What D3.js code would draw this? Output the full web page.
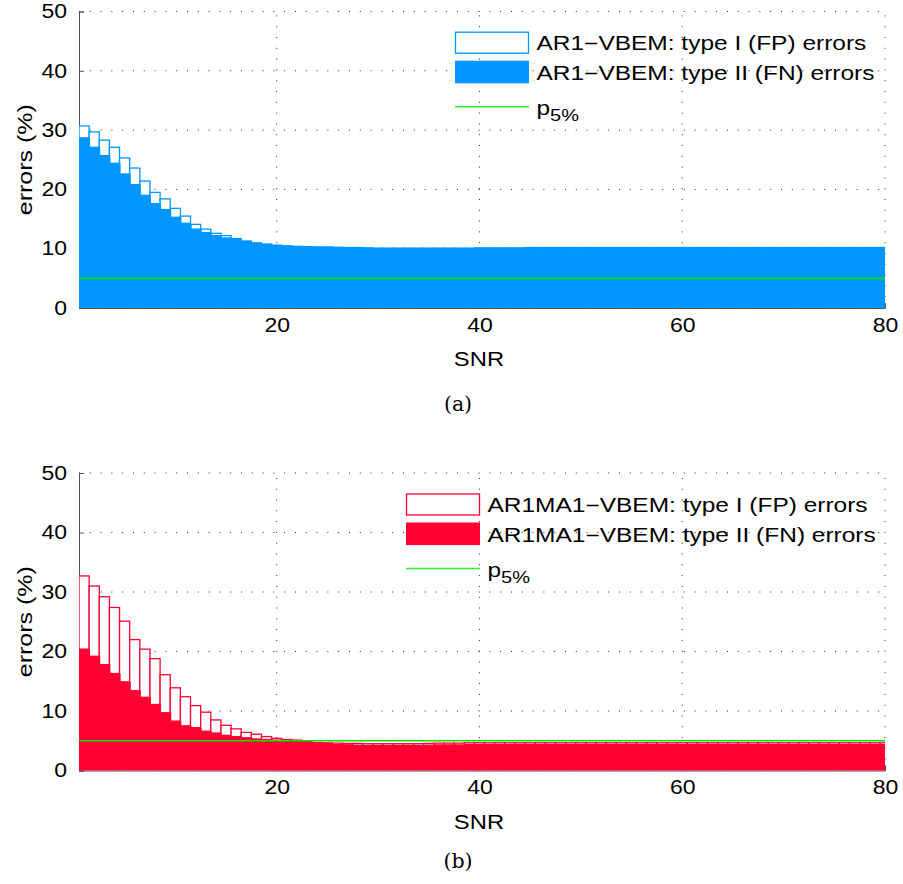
<!DOCTYPE html>
<html><head><meta charset="utf-8">
<script src="https://cdn.jsdelivr.net/npm/d3@7"></script>
<style>body{margin:0;background:#fff}svg{display:block}</style>
</head><body>
<script>
// ---------- data ----------
const snr = [1,2,3,4,5,6,7,8,9,10,11,12,13,14,15,16,17,18,19,20,
 21,22,23,24,25,26,27,28,29,30,31,32,33,34,35,36,37,38,39,40,
 41,42,43,44,45,46,47,48,49,50,51,52,53,54,55,56,57,58,59,60,
 61,62,63,64,65,66,67,68,69,70,71,72,73,74,75,76,77,78,79,80];
const xTicks = [20,40,60,80];
const yTicks = [0,10,20,30,40,50];
const threshold = 5;

// panel (a): AR1-VBEM
const ar1FN = [28.7,27.1,25.7,24.4,22.6,20.8,19.0,17.6,16.6,15.3,14.3,13.3,12.7,12.2,11.8,11.5,11.2,10.9,10.7,10.5,
 10.4,10.3,10.25,10.2,10.2,10.15,10.1,10.1,10.05,10.0,10.0,10.0,10.0,10.0,10.0,10.0,10.0,10.0,10.0,10.05,
 10.05,10.05,10.05,10.05,10.1,10.1,10.1,10.1,10.1,10.1,10.1,10.1,10.1,10.1,10.1,10.1,10.1,10.1,10.1,10.1,
 10.1,10.1,10.1,10.1,10.1,10.1,10.1,10.1,10.1,10.1,10.1,10.1,10.1,10.1,10.1,10.1,10.1,10.1,10.1,10.1];
const ar1FP = [2.0,2.6,2.6,2.7,2.7,2.8,2.4,1.9,1.8,1.5,1.2,0.8,0.6,0.4,0.4,0.2,0.1,0.1,0.1,0.1,
 0.1,0.1,0.1,0.1,0.1,0.1,0.1,0.1,0.1,0.1,0.1,0.1,0.1,0.1,0.1,0.1,0.1,0.1,0.1,0.1,
 0.1,0.1,0.1,0.1,0.1,0.1,0.1,0.1,0.1,0.1,0.1,0.1,0.1,0.1,0.1,0.1,0.1,0.1,0.1,0.1,
 0.1,0.1,0.1,0.1,0.1,0.1,0.1,0.1,0.1,0.1,0.1,0.1,0.1,0.1,0.1,0.1,0.1,0.1,0.1,0.1];

// panel (b): AR1MA1-VBEM
const arma1FN = [20.4,19.2,17.8,16.3,14.9,13.4,12.3,11.1,9.7,8.3,7.5,7.2,6.6,6.3,5.9,5.7,5.5,5.3,5.2,5.1,
 5.0,4.95,4.8,4.6,4.45,4.35,4.3,4.25,4.2,4.2,4.2,4.2,4.2,4.2,4.25,4.3,4.3,4.3,4.35,4.35,
 4.35,4.35,4.35,4.35,4.35,4.35,4.35,4.35,4.35,4.35,4.35,4.35,4.35,4.35,4.35,4.35,4.35,4.35,4.35,4.35,
 4.35,4.35,4.35,4.35,4.35,4.35,4.35,4.35,4.35,4.35,4.35,4.35,4.35,4.35,4.35,4.35,4.35,4.35,4.35,4.35];
const arma1FP = [12.3,11.8,11.4,11.1,10.2,8.6,8.1,7.7,6.4,5.6,4.9,3.7,3.2,2.2,1.7,1.3,0.9,0.8,0.5,0.3,
 0.2,0.15,0.1,0.1,0.2,0.25,0.25,0.3,0.3,0.3,0.3,0.3,0.3,0.3,0.3,0.3,0.3,0.3,0.3,0.3,
 0.3,0.3,0.3,0.3,0.3,0.3,0.3,0.3,0.3,0.3,0.3,0.3,0.3,0.3,0.3,0.3,0.3,0.3,0.3,0.3,
 0.3,0.3,0.3,0.3,0.3,0.3,0.3,0.3,0.3,0.3,0.3,0.3,0.3,0.3,0.3,0.3,0.3,0.3,0.3,0.3];

const panels = [
 {fn: ar1FN, fp: ar1FP, color: "#0096ff", name: "AR1\u2212VBEM", caption: "(a)",
  y0: 308, y1: 11.5, legX: 455, legY: 31.7, capY: 411},
 {fn: arma1FN, fp: arma1FP, color: "#ff0033", name: "AR1MA1\u2212VBEM", caption: "(b)",
  y0: 770.5, y1: 473, legX: 406, legY: 493.5, capY: 868}
];

// ---------- drawing ----------
const W = 903, H = 884;
const svg = d3.select("body").append("svg").attr("width", W).attr("height", H);
const FONT = "'Liberation Sans', Arial, Helvetica, sans-serif";
const FS = 19.5;
const STRETCH = 1.25;
function stretch(sel, k) {
  sel.each(function () {
    const l = this.getComputedTextLength();
    d3.select(this).attr("textLength", l * (k || STRETCH)).attr("lengthAdjust", "spacingAndGlyphs");
  });
}
const x = d3.scaleLinear().domain([0.5, 80]).range([79, 885]);

panels.forEach((p, pi) => {
  const y = d3.scaleLinear().domain([0, 50]).range([p.y0, p.y1]);
  const g = svg.append("g");
  const clipId = "clip" + pi;
  svg.append("defs").append("clipPath").attr("id", clipId)
    .append("rect").attr("x", x.range()[0]).attr("y", p.y1 - 2)
    .attr("width", x.range()[1] - x.range()[0]).attr("height", p.y0 - p.y1 + 3);

  // grid (dotted)
  g.selectAll(".gx").data(xTicks).join("line")
    .attr("x1", d => x(d)).attr("x2", d => x(d)).attr("y1", p.y0).attr("y2", p.y1)
    .attr("stroke", "#222").attr("stroke-width", 1).attr("stroke-dasharray", "1,9.8");
  g.selectAll(".gy").data(yTicks.filter(d => d > 0)).join("line")
    .attr("x1", x.range()[0]).attr("x2", x.range()[1]).attr("y1", d => y(d)).attr("y2", d => y(d))
    .attr("stroke", "#222").attr("stroke-width", 1).attr("stroke-dasharray", "1,9.8");

  // axes via d3
  const yAxis = d3.axisLeft(y).tickValues(yTicks).tickSize(-5).tickPadding(12);
  const ya = g.append("g").attr("transform", `translate(${x.range()[0]},0)`).call(yAxis);
  ya.select(".domain").attr("stroke", "#555");
  ya.selectAll(".tick line").attr("stroke", "#555");
  ya.selectAll("text").attr("font-family", FONT).attr("font-size", FS).attr("fill", "#000")
    .call(stretch, 1.18);

  const xAxis = d3.axisBottom(x).tickValues(xTicks).tickSize(-5).tickPadding(10);
  const xa = g.append("g").attr("transform", `translate(0,${p.y0})`).call(xAxis);
  xa.select(".domain").attr("stroke", "#555");
  xa.selectAll(".tick line").attr("stroke", "#555");
  xa.selectAll("text").attr("font-family", FONT).attr("font-size", FS).attr("fill", "#000")
    .attr("dy", "0.71em").call(stretch, 1.18);

  // bars
  const bars = g.append("g").attr("clip-path", `url(#${clipId})`);
  const data = snr.map((s, i) => ({s, fn: p.fn[i], fp: p.fp[i]}));
  bars.selectAll(".fp").data(data).join("rect")
    .attr("x", d => x(d.s - 0.5)).attr("width", d => x(d.s + 0.5) - x(d.s - 0.5))
    .attr("y", d => y(d.fn + d.fp)).attr("height", d => y(d.fn) - y(d.fn + d.fp))
    .attr("fill", "#fff").attr("stroke", p.color).attr("stroke-width", 1.3);
  bars.selectAll(".fn").data(data).join("rect")
    .attr("x", d => x(d.s - 0.5)).attr("width", d => x(d.s + 0.5) - x(d.s - 0.5) + 1)
    .attr("y", d => y(d.fn)).attr("height", d => y(0) - y(d.fn))
    .attr("fill", p.color);

  // threshold line
  g.append("line").attr("x1", x.range()[0]).attr("x2", x.range()[1])
    .attr("y1", y(threshold)).attr("y2", y(threshold))
    .attr("stroke", "#00e600").attr("stroke-width", 1.6);

  // axis titles
  g.append("text").attr("transform", `translate(32,${(p.y0 + p.y1) / 2}) rotate(-90)`)
    .attr("text-anchor", "middle").attr("font-family", FONT).attr("font-size", FS)
    .text("errors (%)").call(stretch, 1.28);
  g.append("text").attr("x", 479).attr("y", p.y0 + 58)
    .attr("text-anchor", "middle").attr("font-family", FONT).attr("font-size", FS)
    .text("SNR").call(stretch, 1.22);
  g.append("text").attr("x", 458).attr("y", p.capY)
    .attr("text-anchor", "middle").attr("font-family", "'DejaVu Serif', 'Liberation Serif', serif")
    .attr("font-size", 20.5).text(p.caption);

  // legend
  const lg = g.append("g").attr("transform", `translate(${p.legX},${p.legY})`);
  lg.append("rect").attr("x", 0.5).attr("y", 0.5).attr("width", 73).attr("height", 21)
    .attr("fill", "#fff").attr("stroke", p.color).attr("stroke-width", 1.3);
  lg.append("rect").attr("x", 0).attr("y", 29).attr("width", 74).attr("height", 22.6)
    .attr("fill", p.color);
  lg.append("line").attr("x1", 0).attr("x2", 74).attr("y1", 75).attr("y2", 75)
    .attr("stroke", "#33ee33").attr("stroke-width", 1.6);
  const tx = 81.5;
  lg.append("text").attr("x", tx).attr("y", 18.5).attr("font-family", FONT).attr("font-size", FS)
    .text(p.name + ": type I (FP) errors").call(stretch, 1.255);
  lg.append("text").attr("x", tx).attr("y", 48.5).attr("font-family", FONT).attr("font-size", FS)
    .text(p.name + ": type II (FN) errors").call(stretch, 1.255);
  const pt = lg.append("text").attr("x", tx).attr("y", 83.5).attr("font-family", FONT).attr("font-size", FS);
  pt.append("tspan").text("p");
  pt.append("tspan").attr("dy", 6).attr("font-size", 16).text("5%");
  stretch(pt, 1.25);
});
</script>
</body></html>
